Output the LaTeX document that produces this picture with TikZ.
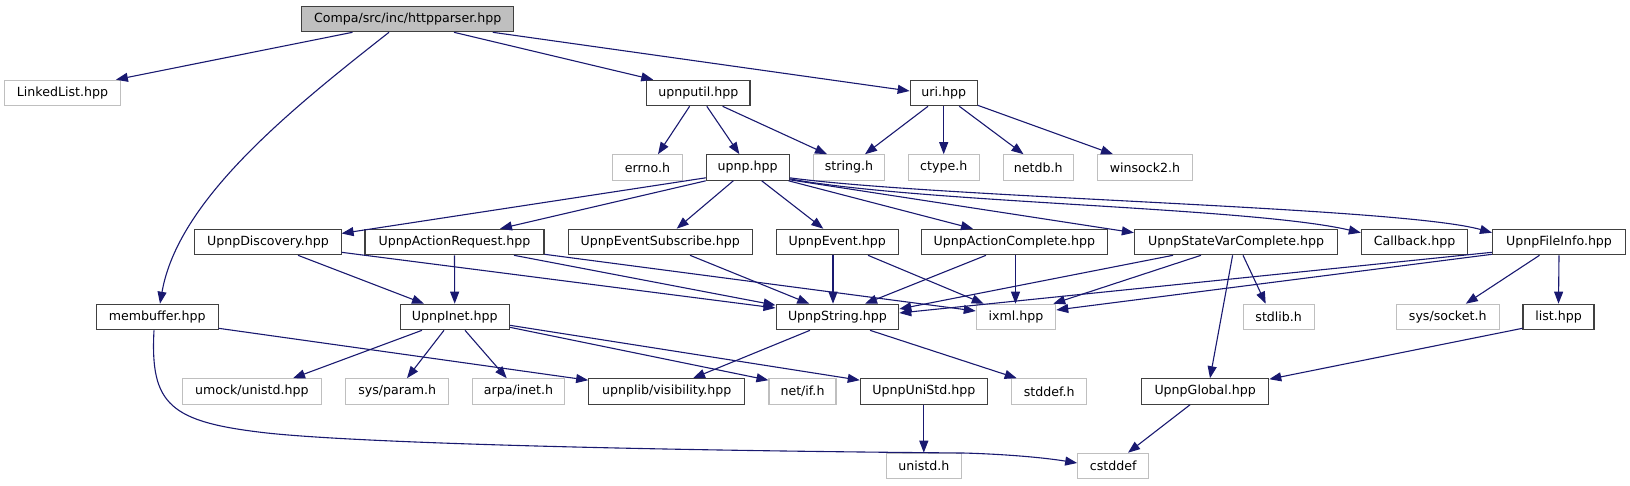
\documentclass[tikz,border=0pt]{standalone}
\usepackage{fontspec}
\setmainfont{DejaVu Sans}
\usetikzlibrary{arrows.meta}
\definecolor{edgec}{HTML}{191970}
\definecolor{extc}{HTML}{BFBFBF}
\definecolor{docc}{HTML}{404040}
\begin{document}
\begin{tikzpicture}[x=1pt,y=-1pt,
  box/.style={draw, minimum height=25.5pt, inner sep=0pt, line width=1.1pt, fill=white, text=black,
    font=\fontsize{12.6}{14}\selectfont},
  doc/.style={box, draw=docc},
  ext/.style={box, draw=extc},
  rootbox/.style={box, draw=docc, fill=extc},
  edge/.style={draw=edgec, line width=1.1pt, -{Triangle[length=12pt,width=9pt]}}]
\useasboundingbox (0,0) rectangle (1630,485);
% row 0
\node[rootbox, minimum width=212.2pt] (httpparser) at (407.7,19) {Compa/src/inc/httpparser.hpp};
% row 1
\node[ext, minimum width=115.7pt] (LinkedList) at (62.5,93) {LinkedList.hpp};
\node[doc, minimum width=103.2pt] (upnputil) at (698.4,93) {upnputil.hpp};
\node[doc, minimum width=67pt] (uri) at (943.7,93) {uri.hpp};
% row 2
\node[ext, minimum width=69.6pt] (errno) at (647.5,167.5) {errno.h};
\node[doc, minimum width=82.7pt] (upnp) at (747.7,167.5) {upnp.hpp};
\node[ext, minimum width=70.6pt] (string) at (849,167.5) {string.h};
\node[ext, minimum width=70.7pt] (ctype) at (943.7,167.5) {ctype.h};
\node[ext, minimum width=70.3pt] (netdb) at (1038.2,167.5) {netdb.h};
\node[ext, minimum width=95.1pt] (winsock2) at (1145,167.5) {winsock2.h};
% row 3
\node[doc, minimum width=146.3pt] (Discovery) at (267.9,242) {UpnpDiscovery.hpp};
\node[doc, minimum width=179pt] (ActionRequest) at (454.5,242) {UpnpActionRequest.hpp};
\node[doc, minimum width=184.3pt] (EventSubscribe) at (660.2,242) {UpnpEventSubscribe.hpp};
\node[doc, minimum width=121.7pt] (UpnpEvent) at (837.2,242) {UpnpEvent.hpp};
\node[doc, minimum width=185.3pt] (ActionComplete) at (1014.4,242) {UpnpActionComplete.hpp};
\node[doc, minimum width=203.4pt] (StateVarComplete) at (1236.1,242) {UpnpStateVarComplete.hpp};
\node[doc, minimum width=106.3pt] (Callback) at (1414.5,242) {Callback.hpp};
\node[doc, minimum width=132.9pt] (FileInfo) at (1559,242) {UpnpFileInfo.hpp};
% row 4
\node[doc, minimum width=121.7pt] (membuffer) at (157.2,317) {membuffer.hpp};
\node[doc, minimum width=109.3pt] (UpnpInet) at (454.7,317) {UpnpInet.hpp};
\node[doc, minimum width=122.7pt] (UpnpString) at (837.4,317) {UpnpString.hpp};
\node[ext, minimum width=79.4pt] (ixml) at (1016,317) {ixml.hpp};
\node[ext, minimum width=71.3pt] (stdlib) at (1278.7,317) {stdlib.h};
\node[ext, minimum width=102.7pt] (syssocket) at (1447.7,317) {sys/socket.h};
\node[doc, minimum width=71pt] (list) at (1558.5,317) {list.hpp};
% row 5
\node[ext, minimum width=139pt] (umock) at (251.8,391.5) {umock/unistd.hpp};
\node[ext, minimum width=103pt] (sysparam) at (397.2,391.5) {sys/param.h};
\node[ext, minimum width=92.4pt] (arpa) at (518.5,391.5) {arpa/inet.h};
\node[doc, minimum width=156pt] (visibility) at (666.7,391.5) {upnplib/visibility.hpp};
\node[ext, minimum width=67pt] (netif) at (802.5,391.5) {net/if.h};
\node[doc, minimum width=127pt] (UniStd) at (923.8,391.5) {UpnpUniStd.hpp};
\node[ext, minimum width=75pt] (stddef) at (1049.2,391.5) {stddef.h};
\node[doc, minimum width=127pt] (UpnpGlobal) at (1205.2,391.5) {UpnpGlobal.hpp};
% row 6
\node[ext, minimum width=75pt] (unistd) at (923.8,466) {unistd.h};
\node[ext, minimum width=71pt] (cstddef) at (1113.2,466) {cstddef};

% edges from httpparser
\draw[edge] ([xshift=-55.2]httpparser.south) -- ([xshift=-5]LinkedList.north east);
\draw[edge] ([xshift=-18.7]httpparser.south) .. controls (290,110) and (178,200) .. ([xshift=2.8]membuffer.north);
\draw[edge] ([xshift=46.3]httpparser.south) -- ([xshift=7]upnputil.north west);
\draw[edge] ([xshift=85.1]httpparser.south) -- ([yshift=2]uri.west);
% upnputil, uri
\draw[edge] ([xshift=-8.8]upnputil.south) -- ([xshift=10.5]errno.north);
\draw[edge] ([xshift=8.4]upnputil.south) -- ([xshift=-8.3]upnp.north);
\draw[edge] ([xshift=24.2]upnputil.south) -- ([xshift=-22]string.north);
\draw[edge] ([xshift=-15.7]uri.south) -- ([xshift=16]string.north);
\draw[edge] (uri.south) -- (ctype.north);
\draw[edge] ([xshift=15.6]uri.south) -- ([xshift=-14.7]netdb.north);
\draw[edge] ([yshift=1]uri.south east) -- ([xshift=-32]winsock2.north);
% upnp
\draw[edge] ([yshift=3]upnp.south west) -- ([yshift=-4.75]Discovery.north east);
\draw[edge] (upnp.south west) -- ([xshift=45.5]ActionRequest.north);
\draw[edge] ([xshift=-14.4]upnp.south) -- ([xshift=16.5]EventSubscribe.north);
\draw[edge] ([xshift=14]upnp.south) -- ([xshift=-13.9]UpnpEvent.north);
\draw[edge] ([xshift=-1]upnp.south east) -- ([xshift=-41.4]ActionComplete.north);
\draw[edge] ([yshift=1]upnp.south east) -- ([yshift=-4]StateVarComplete.north west);
\draw[edge] ([yshift=2]upnp.south east) .. controls (920,203) and (1250,207) .. ([yshift=-4]Callback.north west);
\draw[edge] ([yshift=3]upnp.south east) .. controls (940,198) and (1400,207) .. ([yshift=-4]FileInfo.north west);
% row 3 sources
\draw[edge] ([xshift=30.1]Discovery.south) -- ([xshift=-30.7]UpnpInet.north);
\draw[edge] ([yshift=3]Discovery.south east) -- ([yshift=9]UpnpString.west);
\draw[edge] (ActionRequest.south) -- (UpnpInet.north);
\draw[edge] ([xshift=59.5]ActionRequest.south) -- ([yshift=-1.5]UpnpString.north west);
\draw[edge] ([yshift=1]ActionRequest.south east) -- ([yshift=6]ixml.west);
\draw[edge] ([xshift=29.8]EventSubscribe.south) -- ([xshift=-28.1]UpnpString.north);
\draw[edge] ([xshift=-4.2]UpnpEvent.south) -- ([xshift=-4.4]UpnpString.north);
\draw[edge] ([xshift=30.8]UpnpEvent.south) -- ([xshift=8]ixml.north west);
\draw[edge] ([xshift=-28.4]ActionComplete.south) -- ([xshift=27.6]UpnpString.north);
\draw[edge] ([xshift=1.1]ActionComplete.south) -- ([xshift=-0.5]ixml.north);
\draw[edge] ([xshift=-63.1]StateVarComplete.south) -- ([yshift=8]UpnpString.east);
\draw[edge] ([xshift=-35.1]StateVarComplete.south) -- ([xshift=-3]ixml.north east);
\draw[edge] ([xshift=6.9]StateVarComplete.south) -- ([xshift=-13]stdlib.north);
\draw[edge] ([xshift=-3.5]StateVarComplete.south) -- ([xshift=4.8]UpnpGlobal.north);
\draw[edge] ([yshift=3]FileInfo.south west) -- ([yshift=4]UpnpString.east);
\draw[edge] ([yshift=1]FileInfo.south west) -- ([yshift=7]ixml.east);
\draw[edge] ([xshift=-19.5]FileInfo.south) -- ([xshift=18.1]syssocket.north);
\draw[edge] (FileInfo.south) -- (list.north);
% row 4 sources
\draw[edge] ([yshift=2]list.south west) -- ([yshift=-1]UpnpGlobal.north east);
\draw[edge] ([yshift=2]membuffer.south east) -- ([yshift=-2]visibility.north west);
\draw[edge] ([xshift=-3.2]membuffer.south) .. controls (150,405) and (170,422) .. (267,433)
  .. controls (350,442) and (600,450) .. (963,453)
  .. controls (1000,454) and (1040,457) .. ([yshift=3]cstddef.west);
\draw[edge] ([xshift=-32.7]UpnpInet.south) -- ([xshift=41.2]umock.north);
\draw[edge] ([xshift=-10.7]UpnpInet.south) -- ([xshift=9.8]sysparam.north);
\draw[edge] ([xshift=10.3]UpnpInet.south) -- ([xshift=-11.8]arpa.north);
\draw[edge] ([yshift=3]UpnpInet.south east) -- ([yshift=-2]netif.north west);
\draw[edge] ([yshift=5]UpnpInet.south east) -- ([yshift=-2]UniStd.north west);
\draw[edge] ([xshift=-27.4]UpnpString.south) -- ([xshift=26.3]visibility.north);
\draw[edge] ([xshift=32.6]UpnpString.south) -- ([xshift=-32.5]stddef.north);
% row 5 sources
\draw[edge] (UniStd.south) -- (unistd.north);
\draw[edge] ([xshift=-15.2]UpnpGlobal.south) -- ([xshift=14.8]cstddef.north);
\end{tikzpicture}
\end{document}
